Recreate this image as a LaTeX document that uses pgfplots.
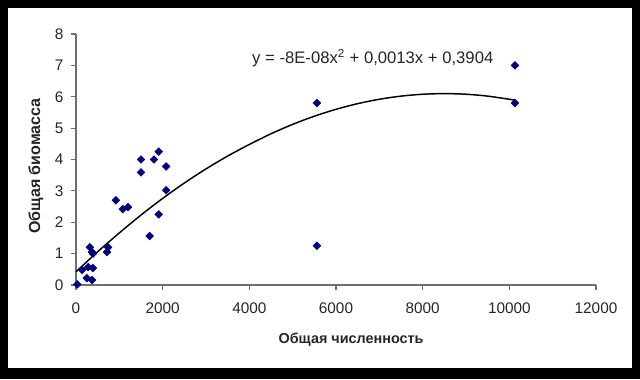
\documentclass[border=0pt]{standalone}
\usepackage{pgfplots}
\pgfplotsset{compat=1.18}
\usepackage{fontspec}
\setmainfont{Liberation Sans}
\definecolor{navy}{RGB}{0,0,128}
\definecolor{axgray}{RGB}{110,110,110}
\begin{document}
\begin{tikzpicture}
\fill[black] (0pt,0pt) rectangle (480pt,284.25pt);
\fill[white] (6pt,8.25pt) rectangle (474pt,278.25pt);
\begin{axis}[
  at={(57pt,70.5pt)}, anchor=south west,
  scale only axis, width=390pt, height=188.25pt,
  xmin=0, xmax=12000, ymin=0, ymax=8,
  xtick={0,2000,...,12000}, ytick={0,1,...,8},
  axis x line*=bottom, axis y line*=left,
  axis line style={axgray, line width=0.8pt, -},
  tick style={axgray, line width=0.8pt},
  tick align=outside, major tick length=4pt,
  scaled x ticks=false,
  /pgf/number format/1000 sep={},
  /pgf/number format/assume math mode=true,
  tick label style={font=\fontsize{11.5}{13}\selectfont, text=black!85},
  x tick label style={yshift=-6pt},
  y tick label style={xshift=-2pt},
  xlabel={Общая численность}, ylabel={Общая биомасса},
  xlabel style={at={(axis description cs:0.529,-0.219)}, anchor=center, font=\fontsize{10.8}{12}\selectfont\bfseries, text=black!85},
  ylabel style={at={(axis description cs:-0.077,0.474)}, anchor=center, font=\fontsize{12}{13}\selectfont\bfseries, text=black!85},
  clip=false,
]
\addplot[black, line width=1.1pt, smooth] coordinates {
(0,0.42) (500,1.06) (1000,1.66) (1500,2.23) (2000,2.76) (2500,3.25)
(3000,3.70) (3500,4.11) (4000,4.48) (4500,4.82) (5000,5.12) (5500,5.38)
(6000,5.60) (6500,5.78) (7000,5.92) (7500,6.02) (8000,6.08) (8500,6.10)
(9000,6.08) (9500,6.02) (10000,5.92) (10130,5.89)};
\addplot[only marks, mark=square*, mark size=2.05pt, mark options={rotate=45, navy, fill=navy}] coordinates {
(30,0.02) (250,0.22) (370,0.16) (280,0.57) (140,0.48) (390,0.54)
(320,1.2) (370,1.05) (390,1.0) (715,1.05) (740,1.2)
(920,2.7) (1080,2.42) (1200,2.48) (1500,3.59) (1500,4.0) (1800,4.0)
(1910,4.25) (2080,3.78) (2080,3.02) (1910,2.25) (1700,1.56)
(5560,5.8) (5560,1.25) (10130,7.0) (10130,5.8)};
\node[anchor=west, font=\fontsize{12.5}{14}\selectfont, text=black!85, inner sep=0pt] at (axis cs:4060,7.23) {y = -8E-08x\textsuperscript{2} + 0,0013x + 0,3904};
\end{axis}
\end{tikzpicture}
\end{document}
